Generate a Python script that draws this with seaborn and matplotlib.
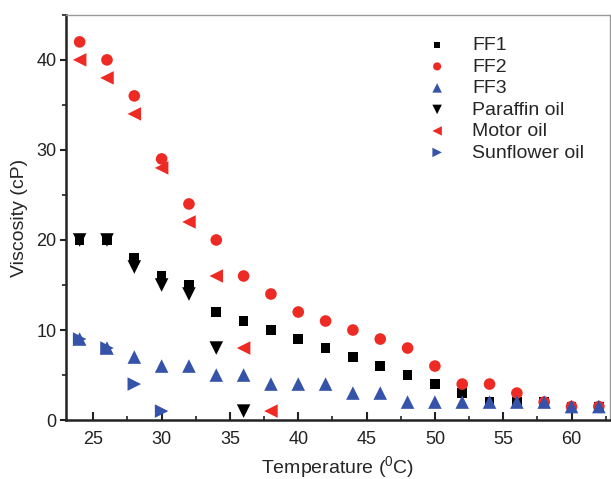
import pandas as pd
import numpy as np
import matplotlib
matplotlib.use("Agg")
import matplotlib.pyplot as plt
from matplotlib.ticker import MultipleLocator
import seaborn as sns

sns.set_style("white")
plt.rcParams["font.family"] = ["Liberation Sans", "DejaVu Sans"]
plt.rcParams["mathtext.fontset"] = "custom"
plt.rcParams["mathtext.rm"] = "Liberation Sans"

# ---------------------------------------------------------
# Data
# ---------------------------------------------------------
temp_ff = [24, 26, 28, 30, 32, 34, 36, 38, 40, 42, 44, 46, 48, 50, 52, 54, 56, 58, 60, 62]
ff1 = [20, 20, 18, 16, 15, 12, 11, 10, 9, 8, 7, 6, 5, 4, 3, 2, 2, 2, 1.5, 1.5]
ff2 = [42, 40, 36, 29, 24, 20, 16, 14, 12, 11, 10, 9, 8, 6, 4, 4, 3, 2, 1.5, 1.5]
ff3 = [9, 8, 7, 6, 6, 5, 5, 4, 4, 4, 3, 3, 2, 2, 2, 2, 2, 2, 1.5, 1.5]

temp_paraffin = [24, 26, 28, 30, 32, 34, 36]
paraffin = [20, 20, 17, 15, 14, 8, 1]

temp_motor = [24, 26, 28, 30, 32, 34, 36, 38]
motor = [40, 38, 34, 28, 22, 16, 8, 1]

temp_sunflower = [24, 26, 28, 30]
sunflower = [9, 8, 4, 1]

series = ["FF1", "FF2", "FF3", "Paraffin oil", "Motor oil", "Sunflower oil"]
colors = ["#000000", "#ee2a24", "#3553a8", "#000000", "#ee2a24", "#3553a8"]
markers = ["s", "o", "^", "v", "<", ">"]
sizes = [48, 70, 95, 95, 95, 95]

frames = []
for name, t, v in [
    ("FF1", temp_ff, ff1),
    ("FF2", temp_ff, ff2),
    ("FF3", temp_ff, ff3),
    ("Paraffin oil", temp_paraffin, paraffin),
    ("Motor oil", temp_motor, motor),
    ("Sunflower oil", temp_sunflower, sunflower),
]:
    frames.append(pd.DataFrame({"Temperature": t, "Viscosity": v, "Sample": name}))
df = pd.concat(frames, ignore_index=True)

fig = plt.figure(figsize=(6.11, 4.79), dpi=100)
ax = fig.add_axes([0.108, 0.123, 0.89, 0.846])

# FF series first, oils drawn on top
for name in series:
    i = series.index(name)
    sub = df[df["Sample"] == name]
    sns.scatterplot(data=sub, x="Temperature", y="Viscosity", ax=ax,
                    color=colors[i], marker=markers[i], s=sizes[i],
                    edgecolor="none", linewidth=0, label=name, legend=True)

ax.legend(frameon=False, loc="upper right",
          bbox_to_anchor=(0.985, 0.99), fontsize=14, markerscale=0.7,
          handletextpad=0.8, labelspacing=0.2)

ax.set_xlim(23, 62.8)
ax.set_ylim(0, 45)
ax.xaxis.set_major_locator(MultipleLocator(5))
ax.xaxis.set_minor_locator(MultipleLocator(2.5))
ax.yaxis.set_major_locator(MultipleLocator(10))
ax.yaxis.set_minor_locator(MultipleLocator(5))
ax.tick_params(axis="x", which="major", direction="in", length=6, width=1.5, labelsize=13, pad=8)
ax.tick_params(axis="x", which="minor", direction="in", length=3, width=1.2)
ax.tick_params(axis="y", which="major", direction="out", length=4, width=1.5, labelsize=13, pad=3)
ax.tick_params(axis="y", which="minor", direction="out", length=3, width=1.2)
ax.tick_params(bottom=True, left=True, which="both", colors="#222222")

for side in ["left", "bottom"]:
    ax.spines[side].set_linewidth(1.8)
    ax.spines[side].set_color("#222222")
for side in ["top", "right"]:
    ax.spines[side].set_linewidth(1.0)
    ax.spines[side].set_color("#999999")

ax.set_xlabel("Temperature ($\\mathregular{^0}$C)", fontsize=14, labelpad=4)
ax.set_ylabel("Viscosity (cP)", fontsize=14, labelpad=6)

fig.savefig("out.png", dpi=100)
